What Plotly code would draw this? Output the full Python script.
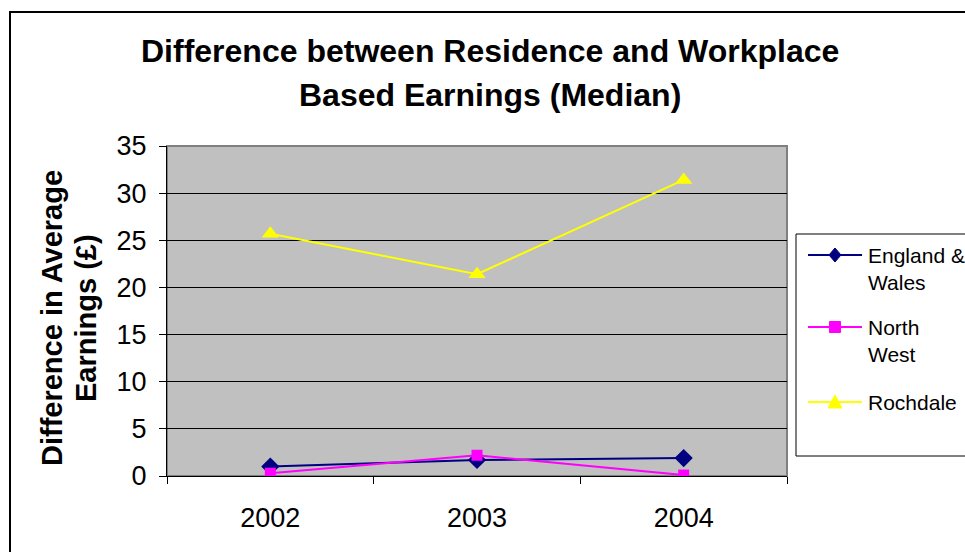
import plotly.graph_objects as go

# Years on the category axis
years = ["2002", "2003", "2004"]

# Difference between residence- and workplace-based median earnings (£)
england_wales = [1.0, 1.7, 1.9]
north_west = [0.3, 2.2, 0.1]
rochdale = [25.7, 21.4, 31.4]

y_ticks = [0, 5, 10, 15, 20, 25, 30, 35]

series_names = [["England &", "Wales"], ["North", "West"], ["Rochdale"]]
series_colors = ["#000080", "#FF00FF", "#FFFF00"]

W, H = 965, 552
L, R, T, B = 167, 787, 146, 476  # plot area in pixels


def px_x(p):
    return (p - L) / (R - L)


def px_y(p):
    return (B - p) / (B - T)


FONT = "Liberation Sans, Arial, sans-serif"

fig = go.Figure()
fig.add_trace(go.Scatter(
    x=years, y=england_wales, mode="lines+markers",
    line=dict(color=series_colors[0], width=2),
    marker=dict(symbol="diamond", size=14, color=series_colors[0]),
))
fig.add_trace(go.Scatter(
    x=years, y=north_west, mode="lines+markers",
    line=dict(color=series_colors[1], width=2),
    marker=dict(symbol="square", size=11, color=series_colors[1]),
))
fig.add_trace(go.Scatter(
    x=years, y=rochdale, mode="lines+markers",
    line=dict(color=series_colors[2], width=2),
    marker=dict(symbol="triangle-up", size=15, color=series_colors[2]),
))

shapes = [
    # outer chart frame
    dict(type="rect", xref="paper", yref="paper",
         x0=px_x(10), x1=px_x(990), y0=px_y(600), y1=px_y(12),
         line=dict(color="black", width=2), fillcolor="rgba(0,0,0,0)", layer="below"),
    # plot area frame (top/right edges)
    dict(type="rect", xref="paper", yref="paper", x0=0, x1=1, y0=0, y1=1,
         line=dict(color="#808080", width=2), fillcolor="rgba(0,0,0,0)", layer="below"),
    # legend box
    dict(type="rect", xref="paper", yref="paper",
         x0=px_x(796), x1=px_x(1000), y0=px_y(456), y1=px_y(234),
         line=dict(color="black", width=1), fillcolor="white", layer="above"),
]

annotations = [
    dict(text="<b>Difference between Residence and Workplace</b>", xref="paper", yref="paper",
         x=px_x(490), y=px_y(51), xanchor="center", yanchor="middle", showarrow=False,
         font=dict(family=FONT, size=32, color="black")),
    dict(text="<b>Based Earnings (Median)</b>", xref="paper", yref="paper",
         x=px_x(490), y=px_y(95), xanchor="center", yanchor="middle", showarrow=False,
         font=dict(family=FONT, size=32, color="black")),
    dict(text="<b>Difference in Average</b>", xref="paper", yref="paper",
         x=px_x(52), y=px_y(318), xanchor="center", yanchor="middle", showarrow=False,
         textangle=-90, font=dict(family=FONT, size=29, color="black")),
    dict(text="<b>Earnings (£)</b>", xref="paper", yref="paper",
         x=px_x(86), y=px_y(318), xanchor="center", yanchor="middle", showarrow=False,
         textangle=-90, font=dict(family=FONT, size=29, color="black")),
]

# Legend: sample line, marker and label for each series
legend_rows = [255, 327, 402]
line_x0, line_x1, mx = 808, 862, 835
for i, (row, names, color) in enumerate(zip(legend_rows, series_names, series_colors)):
    shapes.append(dict(type="line", xref="paper", yref="paper",
                       x0=px_x(line_x0), x1=px_x(line_x1), y0=px_y(row), y1=px_y(row),
                       line=dict(color=color, width=2), layer="above"))
    if i == 0:
        pts = [(mx, row - 7), (mx + 6, row), (mx, row + 7), (mx - 6, row)]
    elif i == 1:
        pts = [(mx - 5.5, row - 5.5), (mx + 5.5, row - 5.5), (mx + 5.5, row + 5.5), (mx - 5.5, row + 5.5)]
    else:
        pts = [(mx, row - 7), (mx + 7, row + 6), (mx - 7, row + 6)]
    path = "M " + " L ".join(f"{px_x(a):.5f},{px_y(b):.5f}" for a, b in pts) + " Z"
    shapes.append(dict(type="path", xref="paper", yref="paper", path=path,
                       fillcolor=color, line=dict(color=color, width=1), layer="above"))
    for j, name in enumerate(names):
        annotations.append(dict(text=name, xref="paper", yref="paper",
                                x=px_x(866), y=px_y(row + 27 * j), xanchor="left",
                                yanchor="middle", showarrow=False,
                                font=dict(family=FONT, size=21, color="black")))

fig.update_layout(
    width=W, height=H,
    margin=dict(l=L, r=W - R, t=T, b=H - B, pad=0),
    paper_bgcolor="white",
    plot_bgcolor="#C0C0C0",
    showlegend=False,
    shapes=shapes,
    annotations=annotations,
    xaxis=dict(
        type="category", tickson="boundaries", ticks="outside", ticklen=7,
        tickcolor="black", showgrid=False, showline=True, linecolor="black", linewidth=1,
        tickfont=dict(family=FONT, size=27, color="black"), range=[-0.5, 2.5],
        ticklabelstandoff=18,
    ),
    yaxis=dict(
        range=[0, 35], tickvals=y_ticks, ticks="outside", ticklen=7, tickcolor="black",
        showgrid=True, gridcolor="black", gridwidth=1, showline=True, linecolor="black",
        linewidth=1, zeroline=False, ticklabelstandoff=7,
        tickfont=dict(family=FONT, size=27, color="black"),
    ),
)

fig.write_html("out.html")
